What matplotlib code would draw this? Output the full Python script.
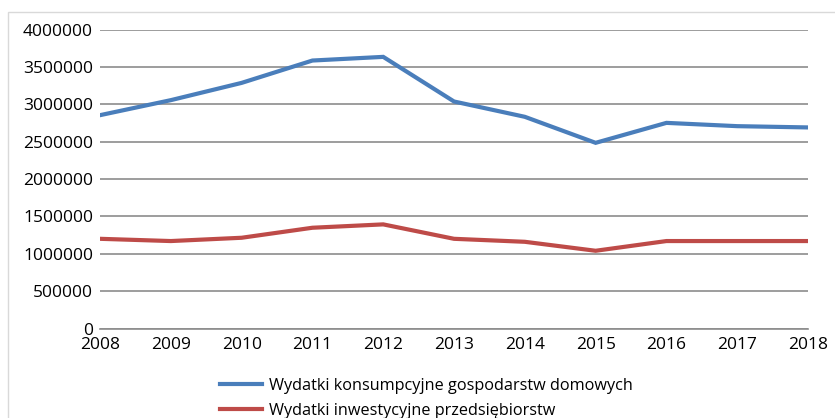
import matplotlib.pyplot as plt
from matplotlib.patches import Rectangle

years = [2008, 2009, 2010, 2011, 2012, 2013, 2014, 2015, 2016, 2017, 2018]
konsumpcja = [2854000, 3055000, 3286000, 3585000, 3634000, 3037000, 2832000, 2484000, 2751000, 2707000, 2690000]
inwestycje = [1200000, 1170000, 1214000, 1348000, 1393000, 1200000, 1160000, 1040000, 1170000, 1170000, 1170000]
yticks = [0, 500000, 1000000, 1500000, 2000000, 2500000, 3000000, 3500000, 4000000]

plt.rcParams['font.family'] = ['Open Sans', 'DejaVu Sans']

fig = plt.figure(figsize=(8.35, 4.18), dpi=100)
ax = fig.add_axes([0.1198, 0.2141, 0.8479, 0.7153])

ax.plot(years, konsumpcja, color='#4a7ebb', lw=3, label='Wydatki konsumpcyjne gospodarstw domowych', solid_joinstyle='miter')
ax.plot(years, inwestycje, color='#be4b48', lw=3, label='Wydatki inwestycyjne przedsiębiorstw', solid_joinstyle='miter')

ax.set_xlim(2008, 2018)
ax.set_ylim(0, 4000000)
ax.set_xticks(years)
ax.set_yticks(yticks)
ax.set_yticklabels([str(v) for v in yticks])
ax.tick_params(axis='both', length=0, labelsize=12.5)
ax.tick_params(axis='x', pad=6)
ax.tick_params(axis='y', pad=5)
ax.grid(axis='y', color='#8c8c8c', lw=1.2)
ax.set_axisbelow(True)
for s in ['top', 'right', 'left']:
    ax.spines[s].set_visible(False)
ax.spines['bottom'].set_color('#8c8c8c')
ax.spines['bottom'].set_linewidth(1.2)

fig.legend(loc='upper left', bbox_to_anchor=(0.2635, 0.096), frameon=False,
           fontsize=11.7, handlelength=2.6, handletextpad=0.4, labelspacing=0.55,
           borderaxespad=0, borderpad=0)

# chart border
fig.patches.append(Rectangle((8 / 835, -0.1), 2, 1.1 - 12 / 418, transform=fig.transFigure,
                             fill=False, edgecolor='#d9d9d9', lw=1))

fig.savefig('out.png', dpi=100)
